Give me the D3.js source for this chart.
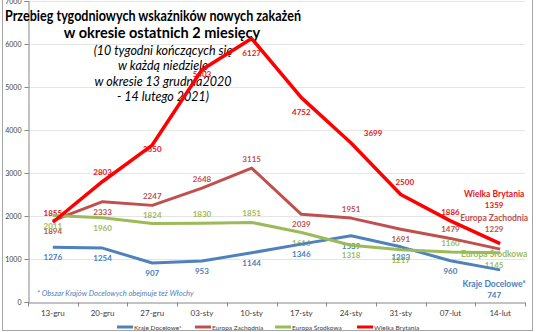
<!DOCTYPE html>
<html>
<head>
<meta charset="utf-8">
<script src="https://cdn.jsdelivr.net/npm/d3@7"></script>
<style>
  html, body { margin: 0; padding: 0; background: #fff; }
  svg { display: block; }
</style>
</head>
<body>
<svg id="chart" width="536" height="332"></svg>
<script>
// Weekly new-case indicators, 10 weeks ending on Sundays
const weeks = ["13-gru", "20-gru", "27-gru", "03-sty", "10-sty", "17-sty", "24-sty", "31-sty", "07-lut", "14-lut"];
const krajeDocelowe = [1276, 1254, 907, 953, 1144, 1346, 1539, 1283, 960, 747];
const europaZachodnia = [1894, 2333, 2247, 2648, 3115, 2039, 1951, 1691, 1479, 1229];
const europaSrodkowa = [2011, 1960, 1824, 1830, 1851, 1616, 1318, 1217, 1160, 1145];
const wielkaBrytania = [1855, 2803, 3650, 5403, 6127, 4752, 3699, 2500, 1886, 1359];
const yTicks = [0, 1000, 2000, 3000, 4000, 5000, 6000, 7000];
const seriesNames = ["Kraje Docelowe*", "Europa Zachodnia", "Europa Środkowa", "Wielka Brytania"];

// label placement per point: "a" above, "b" below, "c" on the point,
// "r" above-right, "h" higher above and nudged right
const sideKD = ["b", "b", "b", "b", "b", "b", "b", "b", "b", "b"];
const sideEZ = ["b", "b", "a", "a", "a", "b", "a", "b", "a", "a"];
const sideES = ["b", "b", "a", "a", "a", "b", "b", "b", "a", "a"];
const sideWB = ["a", "a", "c", "c", "b", "b", "r", "h", "a", "a"];
// vertical shift of the end-of-line name label relative to the last point
const endShift = [17, -28, 4, -47];

const series = [
  { name: seriesNames[0], values: krajeDocelowe, side: sideKD, end: endShift[0], color: "#4F81BD", label: "#4A7EBB", width: 3 },
  { name: seriesNames[1], values: europaZachodnia, side: sideEZ, end: endShift[1], color: "#C0504D", label: "#C0504D", width: 3 },
  { name: seriesNames[2], values: europaSrodkowa, side: sideES, end: endShift[2], color: "#9BBB59", label: "#9BBB59", width: 3 },
  { name: seriesNames[3], values: wielkaBrytania, side: sideWB, end: endShift[3], color: "#FF0000", label: "#E8141B", width: 3.5 }
];

const svg = d3.select("#chart");
const font = "Lato, 'Open Sans', sans-serif";

// outer frame
svg.append("rect").attr("x", 2.5).attr("y", -2).attr("width", 530).attr("height", 332.5)
  .attr("fill", "#fff").attr("stroke", "#a6a6a6").attr("stroke-width", 1);

const x = d3.scaleBand().domain(weeks).range([28, 525]).padding(0);
const y = d3.scaleLinear().domain([0, 7000]).range([302, 1]);
const cx = d => x(d) + x.bandwidth() / 2;

// gridlines
svg.append("g").selectAll("line").data(yTicks.filter(t => t > 0)).join("line")
  .attr("x1", 28).attr("x2", 525)
  .attr("y1", d => Math.round(y(d)) + 0.5).attr("y2", d => Math.round(y(d)) + 0.5)
  .attr("stroke", "#e4e4e4").attr("stroke-width", 1);

// y axis
const yAxis = svg.append("g").attr("transform", "translate(28.5,0)")
  .call(d3.axisLeft(y).tickValues(yTicks).tickSize(4).tickPadding(3).tickFormat(d3.format("d")));
yAxis.select(".domain").attr("stroke", "#868686");
yAxis.selectAll(".tick line").attr("stroke", "#868686");
yAxis.selectAll("text").attr("font-family", font).attr("font-size", 7).attr("fill", "#404040");

// x axis
const xAxis = svg.append("g").attr("transform", "translate(0,302.5)")
  .call(d3.axisBottom(x).tickSize(0).tickPadding(8));
xAxis.select(".domain").attr("stroke", "#868686");
xAxis.selectAll("text").attr("font-family", font).attr("font-size", 8).attr("fill", "#404040");
xAxis.selectAll(".edge").data(weeks.concat(["end"])).join("line")
  .attr("x1", (d, i) => Math.round(x.range()[0] + i * x.bandwidth()) + 0.5)
  .attr("x2", (d, i) => Math.round(x.range()[0] + i * x.bandwidth()) + 0.5)
  .attr("y1", 0).attr("y2", 4).attr("stroke", "#868686");

// title text block
const title = svg.append("g").attr("font-family", font).attr("fill", "#000");
title.append("text").attr("x", 5).attr("y", 21).attr("font-size", 14.5).attr("font-weight", 700)
  .attr("textLength", 296).attr("lengthAdjust", "spacingAndGlyphs")
  .text("Przebieg tygodniowych wskaźników nowych zakażeń");
title.append("text").attr("x", 162).attr("y", 38).attr("font-size", 14.5).attr("font-weight", 700)
  .attr("text-anchor", "middle").text("w okresie ostatnich 2 miesięcy");
const sub = ["(10 tygodni kończących się", "w każdą niedzielę", "w okresie 13 grudnia2020", "- 14 lutego 2021)"];
title.selectAll(".sub").data(sub).join("text")
  .attr("x", 163).attr("y", (d, i) => 55 + i * 15.3)
  .attr("font-size", 12.5).attr("font-style", "italic").attr("text-anchor", "middle").text(d => d);

// footnote
svg.append("text").attr("x", 37).attr("y", 296).attr("font-family", font).attr("font-size", 7.5)
  .attr("font-style", "italic").attr("fill", "#4F81BD")
  .text("* Obszar Krajów Docelowych obejmuje też  Włochy");

// data labels (drawn beneath the lines)
const labels = svg.append("g").attr("font-family", font).attr("font-size", 8).attr("font-weight", 700)
  .attr("text-anchor", "middle");
series.forEach(s => {
  s.values.forEach((v, i) => {
    const last = i === s.values.length - 1;
    let px = cx(weeks[i]) - (last ? 6 : 0);
    const py = y(v);
    if (last) {
      const top = py + s.end;
      labels.append("text").attr("x", px).attr("y", top).attr("font-size", 8.5).attr("fill", s.label).text(s.name);
      labels.append("text").attr("x", px).attr("y", top + 11).attr("fill", s.label).text(d3.format("d")(v));
      return;
    }
    const belowOff = s.name === "Wielka Brytania" ? 17 : 13;
    let ty;
    switch (s.side[i]) {
      case "a": ty = py - 6; break;
      case "c": ty = py + 7; break;
      case "r": ty = py - 7; px += 22; break;
      case "h": ty = py - 10; px += 4; break;
      default: ty = py + belowOff;
    }
    labels.append("text").attr("x", px).attr("y", ty).attr("fill", s.label).text(d3.format("d")(v));
  });
});

// series lines
const line = d3.line().x((d, i) => cx(weeks[i])).y(d => y(d));
svg.append("g").selectAll("path").data(series).join("path")
  .attr("d", s => line(s.values))
  .attr("fill", "none").attr("stroke", s => s.color).attr("stroke-width", s => s.width)
  .attr("stroke-linejoin", "round");

// legend
const legendX = [117, 195, 275, 357];
const legend = svg.append("g").attr("font-family", font).attr("font-size", 6.5).attr("fill", "#404040");
series.forEach((s, i) => {
  legend.append("line").attr("x1", legendX[i]).attr("x2", legendX[i] + 16)
    .attr("y1", 327).attr("y2", 327).attr("stroke", s.color).attr("stroke-width", 3);
  legend.append("text").attr("x", legendX[i] + 17).attr("y", 329.5).text(s.name);
});
</script>
</body>
</html>
